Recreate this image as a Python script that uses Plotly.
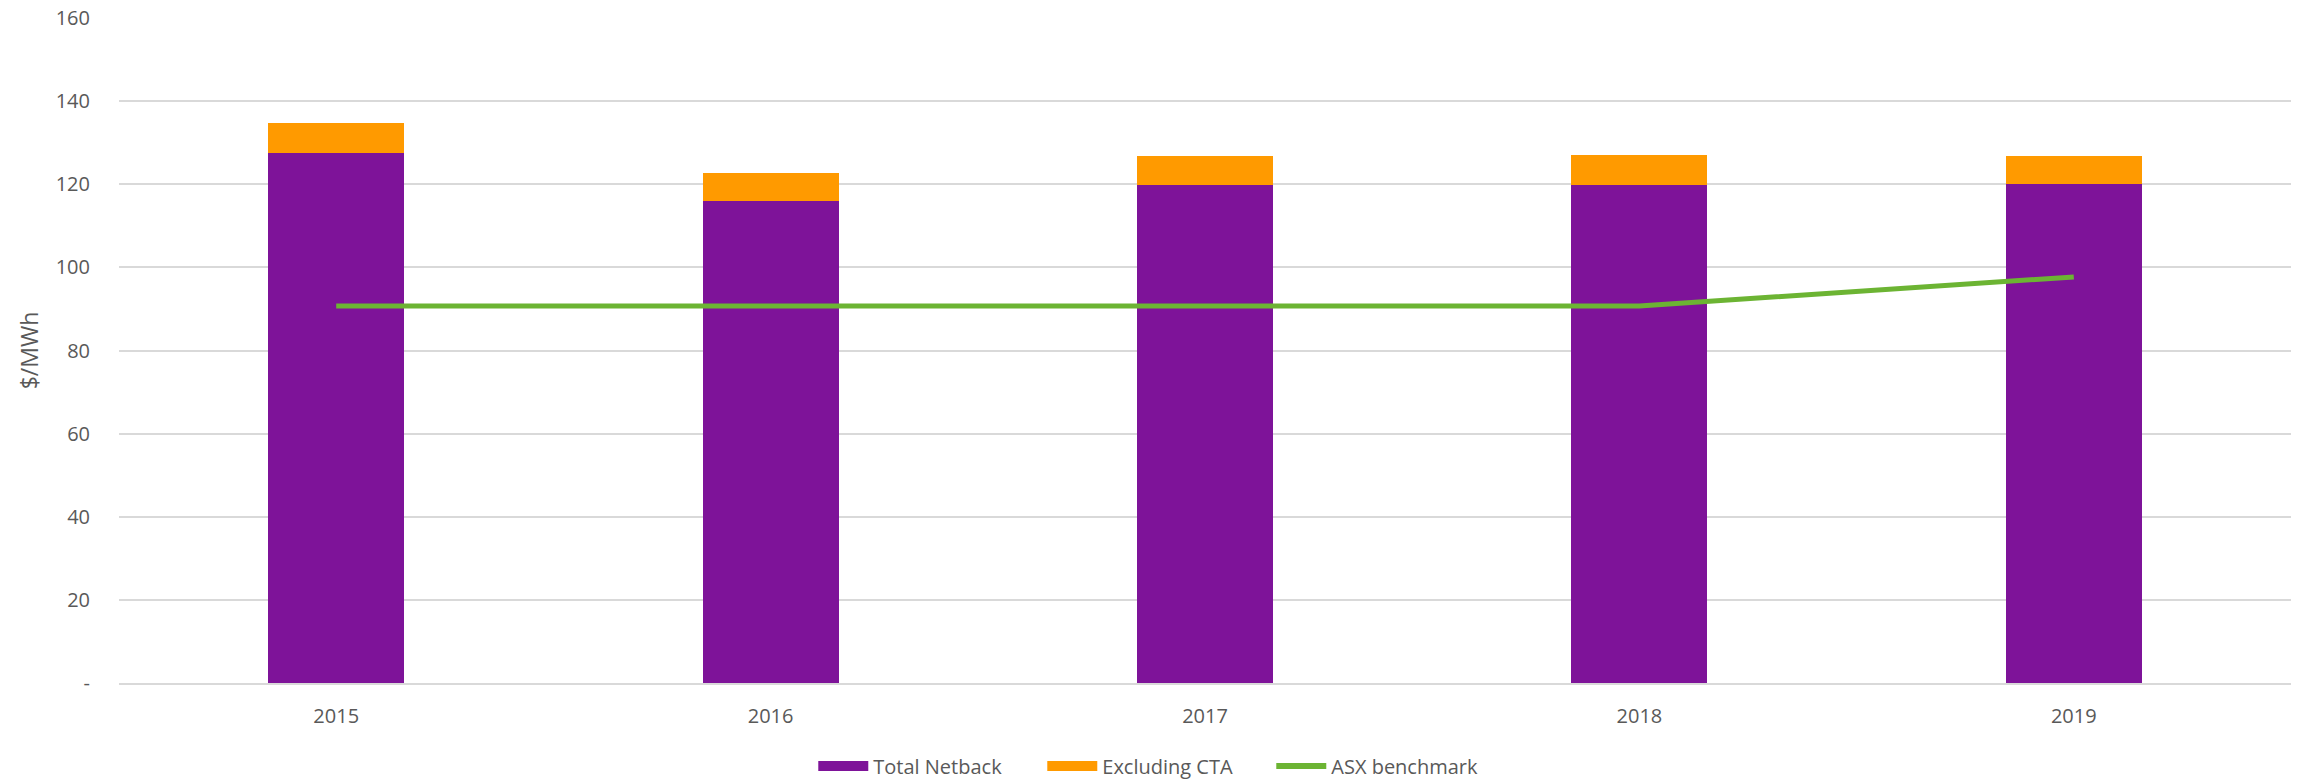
import plotly.graph_objects as go

years = ["2015", "2016", "2017", "2018", "2019"]
total_netback = [127.6, 116.0, 119.8, 119.8, 120.1]
excluding_cta = [7.1, 6.8, 7.0, 7.2, 6.7]
asx_benchmark = [90.7, 90.7, 90.7, 90.7, 97.7]
y_tickvals = [0, 20, 40, 60, 80, 100, 120, 140, 160]
y_ticktext = ["-", "20", "40", "60", "80", "100", "120", "140", "160"]

PURPLE = "#7e1399"
ORANGE = "#ff9a00"
GREEN = "#6cb433"
GRID = "#d9d9d9"
TXT = "#595959"
FONT = "Open Sans"

fig = go.Figure()
fig.add_trace(go.Bar(x=years, y=total_netback, name="Total Netback",
                     marker=dict(color=PURPLE, line=dict(width=0)),
                     showlegend=False, legendgroup="a"))
fig.add_trace(go.Bar(x=years, y=excluding_cta, name="Excluding CTA",
                     marker=dict(color=ORANGE, line=dict(width=0)),
                     showlegend=False, legendgroup="b"))
fig.add_trace(go.Scatter(x=years, y=asx_benchmark, name="ASX benchmark",
                         mode="lines", line=dict(color=GREEN, width=5),
                         showlegend=False, legendgroup="c"))
# legend swatches (no data drawn)
fig.add_trace(go.Scatter(x=[None], y=[None], mode="lines", name="Total Netback",
                         line=dict(color=PURPLE, width=14), legendgroup="a"))
fig.add_trace(go.Scatter(x=[None], y=[None], mode="lines", name="Excluding CTA",
                         line=dict(color=ORANGE, width=14), legendgroup="b"))
fig.add_trace(go.Scatter(x=[None], y=[None], mode="lines", name="ASX benchmark",
                         line=dict(color=GREEN, width=6), legendgroup="c"))

fig.update_layout(
    width=2300, height=780,
    barmode="stack", bargap=0.687,
    plot_bgcolor="white", paper_bgcolor="white",
    margin=dict(l=119, r=9, t=18, b=97, autoexpand=False),
    font=dict(family=FONT, size=20, color=TXT),
    legend=dict(orientation="h", xref="container", yref="container",
                x=0.3536, xanchor="left", y=0.018, yanchor="middle",
                font=dict(family=FONT, size=20, color=TXT),
                itemwidth=50, traceorder="normal",
                entrywidth=164, entrywidthmode="pixels"),
    showlegend=True,
)
fig.update_xaxes(showgrid=False, showline=True, linecolor=GRID, linewidth=2,
                 ticks="", tickfont=dict(family=FONT, size=20, color=TXT),
                 ticklabelstandoff=14, automargin=False)
fig.update_yaxes(range=[0, 160], tickvals=y_tickvals, ticktext=y_ticktext,
                 showgrid=True, gridcolor=GRID, gridwidth=2,
                 zeroline=False, showline=False, ticks="",
                 tickfont=dict(family=FONT, size=20, color=TXT),
                 ticklabelstandoff=28, automargin=False,
                 title=dict(text="$/MWh", standoff=10,
                            font=dict(family=FONT, size=23, color=TXT)))

fig.write_html("out.html")
